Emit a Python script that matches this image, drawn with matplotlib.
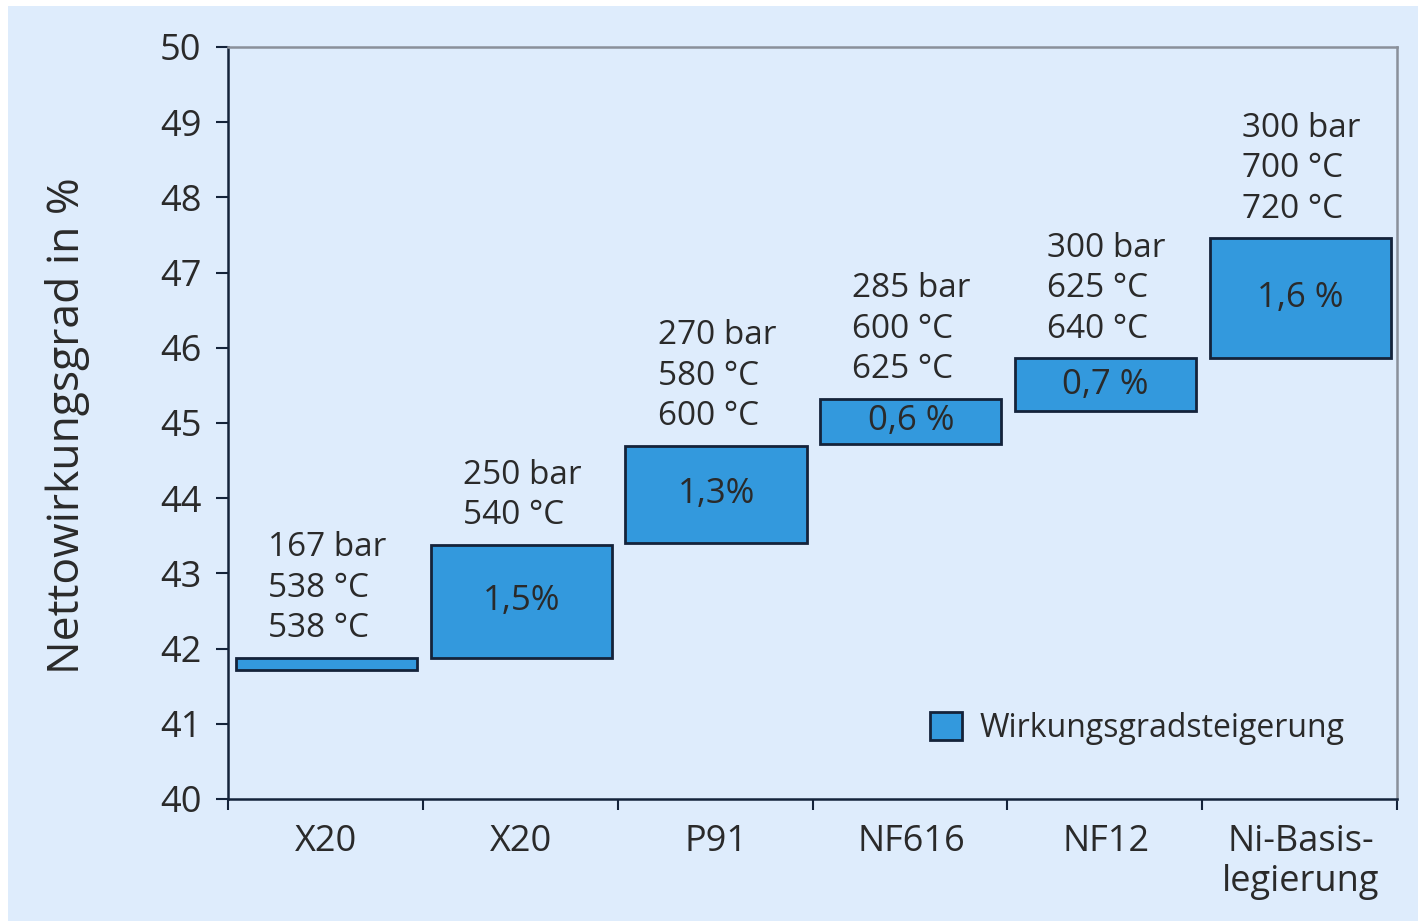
import numpy as np
import matplotlib
matplotlib.use("Agg")
import matplotlib.pyplot as plt
import matplotlib.patches as patches

plt.rcParams['font.family'] = ['Open Sans', 'DejaVu Sans']

# efficiency step per material (floating bars: start level + increase)
materials = ['X20', 'X20', 'P91', 'NF616', 'NF12', 'Ni-Basis-\nlegierung']
bar_bottom = [41.72, 41.88, 43.40, 44.72, 45.16, 45.86]
bar_height = [0.16, 1.5, 1.3, 0.6, 0.7, 1.6]
step_labels = ['', '1,5%', '1,3%', '0,6 %', '0,7 %', '1,6 %']
conditions = [
    '167 bar\n538 °C\n538 °C',
    '250 bar\n540 °C',
    '270 bar\n580 °C\n600 °C',
    '285 bar\n600 °C\n625 °C',
    '300 bar\n625 °C\n640 °C',
    '300 bar\n700 °C\n720 °C',
]

bg = '#deecfc'
bar_col = '#3399dd'
edge_col = '#14233a'
txt_col = '#2a2a2a'

fig = plt.figure(figsize=(14.18, 9.21), dpi=100)
fig.patch.set_facecolor('white')
fig.add_artist(patches.Rectangle((8 / 1418, 0), 1, 1 - 6 / 921,
                                 transform=fig.transFigure,
                                 facecolor=bg, edgecolor='none', zorder=-10))

ax = fig.add_axes([228 / 1418, 1 - 799 / 921, (1397 - 228) / 1418, (799 - 47) / 921])
ax.set_facecolor(bg)

x = np.arange(len(materials)) + 0.505
bars = ax.bar(x, bar_height, width=0.93, bottom=bar_bottom,
              color=bar_col, edgecolor=edge_col, linewidth=2,
              label='Wirkungsgradsteigerung', zorder=3)

for xi, b, h, lab, cond in zip(x, bar_bottom, bar_height, step_labels, conditions):
    if lab:
        ax.text(xi, b + h / 2, lab, ha='center', va='center',
                fontsize=25, color=txt_col, zorder=4)
    ax.annotate(cond, (xi - 0.465 + 0.165, b + h), xytext=(0, 9),
                textcoords='offset points', ha='left', va='bottom',
                fontsize=24, color=txt_col, linespacing=1.3)

ax.set_xlim(0, 6)
ax.set_ylim(40, 50)
ax.set_yticks(np.arange(40, 51, 1))
ax.tick_params(axis='y', direction='out', length=9, width=1.5,
               color=edge_col, labelsize=26, labelcolor=txt_col, pad=10)

# category boundaries as ticks, names centred in between
ax.set_xticks(np.arange(0, 7))
ax.set_xticklabels([])
ax.set_xticks(x, minor=True)
ax.set_xticklabels(materials, minor=True, linespacing=1.15)
ax.tick_params(axis='x', which='major', direction='out', length=8, width=1.5,
               color=edge_col)
ax.tick_params(axis='x', which='minor', length=0, labelsize=26,
               labelcolor=txt_col, pad=18)

for s in ['left', 'bottom']:
    ax.spines[s].set_color(edge_col)
    ax.spines[s].set_linewidth(1.8)
for s in ['top', 'right']:
    ax.spines[s].set_color('#8a909a')
    ax.spines[s].set_linewidth(1.8)

ax.set_ylabel('Nettowirkungsgrad in %', fontsize=32, color=txt_col)
ax.yaxis.set_label_coords(-0.118, 0.497)

leg = ax.legend(loc='center left', bbox_to_anchor=(0.6005, 0.094),
                frameon=False, fontsize=23, handlelength=1.0, handleheight=1.0,
                handletextpad=0.56, borderpad=0, borderaxespad=0)
for t in leg.get_texts():
    t.set_color(txt_col)

fig.savefig('out.png', dpi=100, facecolor=fig.get_facecolor())
